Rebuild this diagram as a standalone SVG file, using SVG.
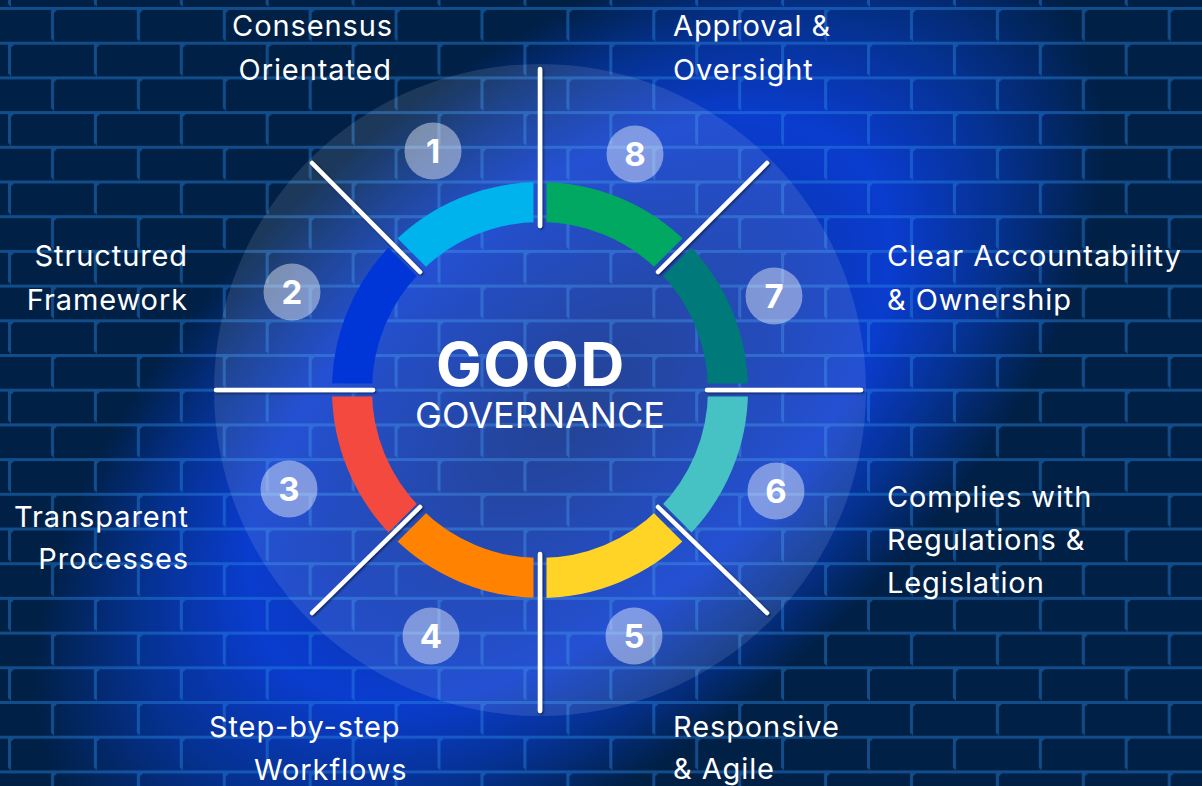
<svg xmlns="http://www.w3.org/2000/svg" width="1202" height="786" viewBox="0 0 1202 786">
  <defs>
    <radialGradient id="glow" gradientUnits="userSpaceOnUse" cx="0" cy="0" r="1" gradientTransform="translate(570 410) rotate(-40) scale(640 340)">
      <stop offset="0" stop-color="#0a2c86"/>
      <stop offset="0.35" stop-color="#0a35b0"/>
      <stop offset="0.6" stop-color="#0a3cce"/>
      <stop offset="0.8" stop-color="#05318f"/>
      <stop offset="1" stop-color="#002046"/>
    </radialGradient>
    <pattern id="bricks" patternUnits="userSpaceOnUse" x="0" y="7" width="85.9" height="69.4">
      <g fill="#2a8ae6" fill-opacity="0.42">
        <rect x="0" y="0" width="85.9" height="3"/>
        <polygon points="51,3 54,3 54,34.7 51,31.7"/>
        <polygon points="54,3 57,3 54,6"/>
        <rect x="0" y="34.7" width="85.9" height="3"/>
        <polygon points="8,37.7 11,37.7 11,69.4 8,66.4"/>
        <polygon points="11,37.7 14,37.7 11,40.7"/>
      </g>
    </pattern>
    <mask id="gaps" maskUnits="userSpaceOnUse" x="0" y="0" width="1202" height="786">
      <rect x="0" y="0" width="1202" height="786" fill="#fff"/>
      <g stroke="#000" stroke-width="13">
        <line x1="540" y1="100" x2="540" y2="680"/>
        <line x1="250" y1="390" x2="830" y2="390"/>
        <line x1="335" y1="185" x2="745" y2="595"/>
        <line x1="745" y1="185" x2="335" y2="595"/>
      </g>
    </mask>
    <filter id="shadow" x="-20%" y="-20%" width="140%" height="140%">
      <feDropShadow dx="1.2" dy="1.2" stdDeviation="0.8" flood-color="#000" flood-opacity="0.6"/>
    </filter>
    <style>
      .lbl { font-family: Inter, "Liberation Sans", sans-serif; font-size: 29px; fill: #fff; letter-spacing: 0.9px; }
      .num { font-family: Inter, "Liberation Sans", sans-serif; font-size: 33px; font-weight: 700; fill: #fff; text-anchor: middle; }
      .badge { fill: #fff; fill-opacity: 0.42; }
      .seg { fill: none; stroke-width: 40; }
      .div { stroke: #fff; stroke-width: 4.5; stroke-linecap: round; }
    </style>
  </defs>

  <!-- background -->
  <rect x="0" y="0" width="1202" height="786" fill="url(#glow)"/>
  <rect x="0" y="0" width="1202" height="786" fill="url(#bricks)"/>

  <!-- translucent disc -->
  <circle cx="540" cy="390" r="326" fill="#fff" fill-opacity="0.11"/>

  <!-- ring -->
  <g id="ring" mask="url(#gaps)">
    <path class="seg" stroke="#00a862" d="M540,202 A188,188 0 0 1 672.94,257.06"/>
    <path class="seg" stroke="#00797a" d="M672.94,257.06 A188,188 0 0 1 728,390"/>
    <path class="seg" stroke="#46c2c4" d="M728,390 A188,188 0 0 1 672.94,522.94"/>
    <path class="seg" stroke="#ffd426" d="M672.94,522.94 A188,188 0 0 1 540,578"/>
    <path class="seg" stroke="#ff8300" d="M540,578 A188,188 0 0 1 407.06,522.94"/>
    <path class="seg" stroke="#f4493f" d="M407.06,522.94 A188,188 0 0 1 352,390"/>
    <path class="seg" stroke="#0036d8" d="M352,390 A188,188 0 0 1 407.06,257.06"/>
    <path class="seg" stroke="#00b3ec" d="M407.06,257.06 A188,188 0 0 1 540,202"/>
  </g>

  <!-- connectors / dividers -->
  <g id="connectors" class="div" filter="url(#shadow)">
    <line x1="540" y1="69" x2="540" y2="226"/>
    <line x1="540" y1="554" x2="540" y2="711"/>
    <line x1="216" y1="390" x2="373" y2="390"/>
    <line x1="707" y1="390" x2="861" y2="390"/>
    <line x1="312" y1="163" x2="420" y2="272"/>
    <line x1="767" y1="163" x2="658" y2="272"/>
    <line x1="312" y1="613" x2="420" y2="507"/>
    <line x1="767" y1="613" x2="658" y2="507"/>
  </g>

  <!-- center title -->
  <g id="title">
    <text x="531" y="386" text-anchor="middle" font-family="Inter, 'Liberation Sans', sans-serif" font-size="61" font-weight="700" fill="#fff" letter-spacing="1.5">GOOD</text>
    <text x="540" y="428" text-anchor="middle" font-family="Inter, 'Liberation Sans', sans-serif" font-size="36" fill="#fff">GOVERNANCE</text>
  </g>

  <!-- nodes -->
  <g id="node1">
    <circle class="badge" cx="433" cy="151" r="28.5"/>
    <text class="num" x="433" y="163">1</text>
    <text class="lbl" x="393" y="36" text-anchor="end">Consensus</text>
    <text class="lbl" x="392" y="80" text-anchor="end">Orientated</text>
  </g>
  <g id="node2">
    <circle class="badge" cx="292" cy="292" r="28.5"/>
    <text class="num" x="292" y="304">2</text>
    <text class="lbl" x="188" y="266" text-anchor="end">Structured</text>
    <text class="lbl" x="188" y="310" text-anchor="end">Framework</text>
  </g>
  <g id="node3">
    <circle class="badge" cx="289" cy="489" r="28.5"/>
    <text class="num" x="289" y="501">3</text>
    <text class="lbl" x="189" y="527" text-anchor="end">Transparent</text>
    <text class="lbl" x="189" y="569" text-anchor="end">Processes</text>
  </g>
  <g id="node4">
    <circle class="badge" cx="431" cy="636" r="28.5"/>
    <text class="num" x="431" y="648">4</text>
    <text class="lbl" x="209" y="737">Step-by-step</text>
    <text class="lbl" x="254" y="780">Workflows</text>
  </g>
  <g id="node5">
    <circle class="badge" cx="634" cy="636" r="28.5"/>
    <text class="num" x="634" y="648">5</text>
    <text class="lbl" x="673" y="737">Responsive</text>
    <text class="lbl" x="673" y="779">&amp; Agile</text>
  </g>
  <g id="node6">
    <circle class="badge" cx="776" cy="491" r="28.5"/>
    <text class="num" x="776" y="503">6</text>
    <text class="lbl" x="887" y="507">Complies with</text>
    <text class="lbl" x="887" y="550">Regulations &amp;</text>
    <text class="lbl" x="887" y="593">Legislation</text>
  </g>
  <g id="node7">
    <circle class="badge" cx="774" cy="296" r="28.5"/>
    <text class="num" x="774" y="308">7</text>
    <text class="lbl" x="887" y="266">Clear Accountability</text>
    <text class="lbl" x="887" y="310">&amp; Ownership</text>
  </g>
  <g id="node8">
    <circle class="badge" cx="635" cy="154" r="28.5"/>
    <text class="num" x="635" y="166">8</text>
    <text class="lbl" x="673" y="36">Approval &amp;</text>
    <text class="lbl" x="673" y="80">Oversight</text>
  </g>
</svg>
